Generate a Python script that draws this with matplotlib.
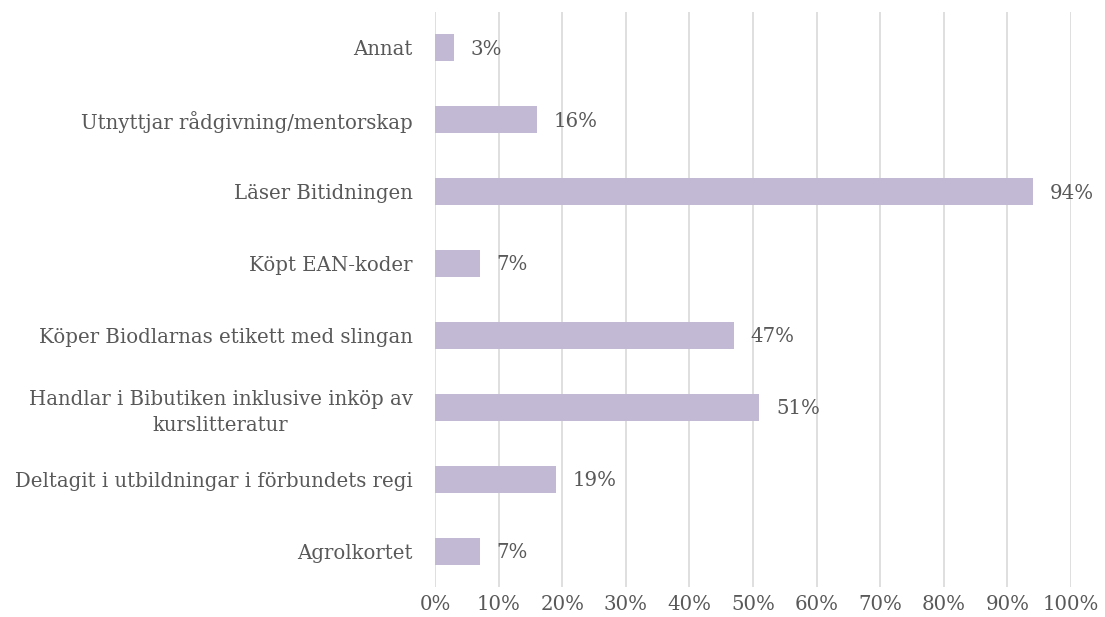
import matplotlib
matplotlib.use("Agg")
import matplotlib.pyplot as plt
from matplotlib.ticker import FixedLocator

categories = [
    "Annat",
    "Utnyttjar rådgivning/mentorskap",
    "Läser Bitidningen",
    "Köpt EAN-koder",
    "Köper Biodlarnas etikett med slingan",
    "Handlar i Bibutiken inklusive inköp av\nkurslitteratur",
    "Deltagit i utbildningar i förbundets regi",
    "Agrolkortet",
]
values = [3, 16, 94, 7, 47, 51, 19, 7]
xticks = [0, 10, 20, 30, 40, 50, 60, 70, 80, 90, 100]
xtick_labels = [f"{t}%" for t in xticks]

plt.rcParams['font.family'] = ['DejaVu Serif']
text_color = "#595959"
bar_color = "#C2BAD4"
grid_color = "#D9D9D9"
fs = 14.2

fig = plt.figure(figsize=(11.05, 6.17), dpi=100)
ax = fig.add_axes([435/1105, 1-587/617, (1071-435)/1105, (587-12)/617])

y = list(range(len(categories)))
ax.barh(y, values, height=0.377, color=bar_color, zorder=2)
ax.set_ylim(len(categories)-0.5, -0.5)
ax.set_xlim(0, 100)
ax.set_yticks(y)
ax.set_yticklabels(categories, fontsize=fs, color=text_color,
                   multialignment='center', linespacing=1.45)
ax.xaxis.set_major_locator(FixedLocator(xticks))
ax.set_xticklabels(xtick_labels, fontsize=fs, color=text_color)
ax.tick_params(axis='both', length=0)
ax.tick_params(axis='x', pad=6)
ax.tick_params(axis='y', pad=16)
ax.grid(axis='x', color=grid_color, linewidth=1.2, zorder=0)
for s in ax.spines.values():
    s.set_visible(False)

for yi, v in zip(y, values):
    ax.annotate(f"{v}%", xy=(v, yi), xytext=(12, -1), textcoords='offset points',
                va='center', ha='left', fontsize=fs, color=text_color)

fig.savefig("out.png", dpi=100)
